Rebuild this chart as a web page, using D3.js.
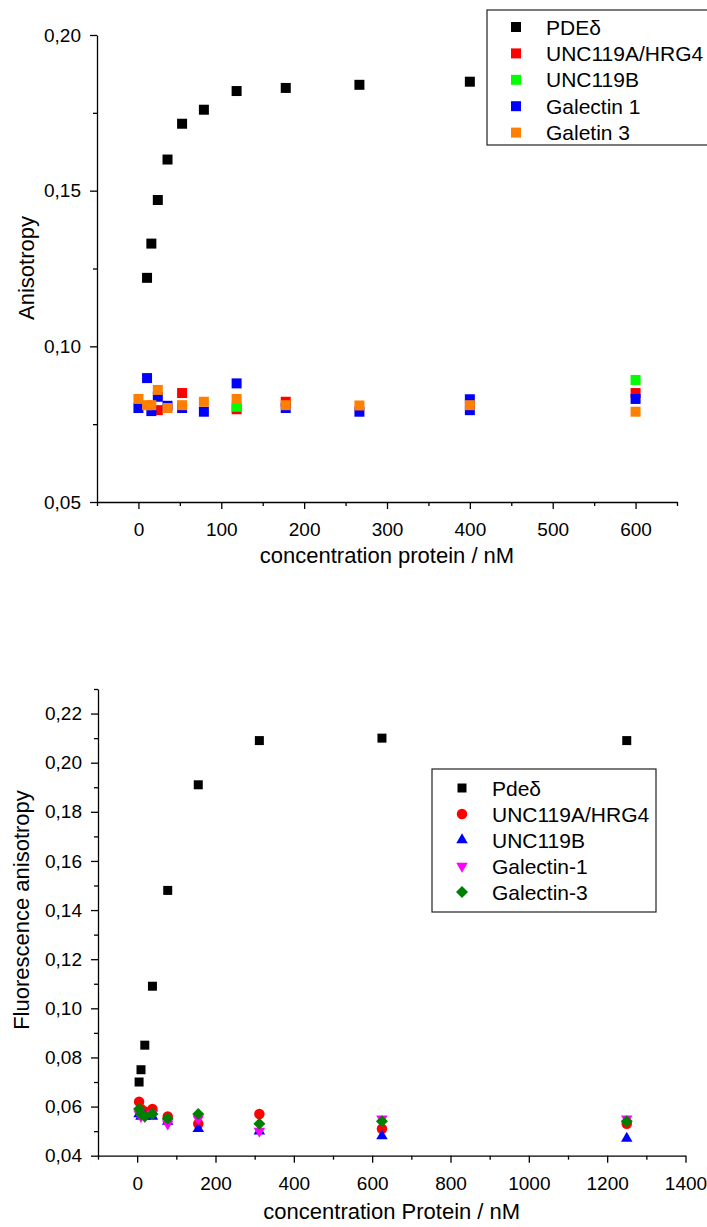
<!DOCTYPE html>
<html>
<head>
<meta charset="utf-8">
<script src="https://cdn.jsdelivr.net/npm/d3@7"></script>
<style>
  body { margin: 0; background: #fff; }
  svg { display: block; font-family: Arial, "Liberation Sans", sans-serif; }
</style>
</head>
<body>
<svg id="chart" width="707" height="1227"></svg>
<script>
// ── top panel: concentration series (nM) and anisotropy values ──
const concTop = [0, 10.4, 15.6, 23.4, 35.1, 52.7, 79, 118.5, 177.8, 266.7, 400, 600];
const pdeTop       = [null, 0.122, 0.133, 0.147, 0.160, 0.1715, 0.176, 0.182, 0.183, 0.184, 0.185, null];
const unc119aTop   = [null, null, null, 0.0795, null, 0.085, null, 0.0798, 0.0822, null, null, 0.085];
const unc119bTop   = [null, null, null, null, null, null, null, 0.0806, null, null, null, 0.0892];
const galectin1Top = [0.0802, 0.0898, 0.0792, 0.0838, 0.0809, 0.0802, 0.079, 0.0881, 0.0802, 0.079, 0.083, 0.0831];
const galectin1TopRepeat = [null, null, null, null, null, null, null, null, null, null, 0.0795, null];
const galectin3Top = [0.0831, 0.0811, 0.0811, 0.086, 0.0802, 0.0811, 0.0822, 0.0831, 0.0811, 0.081, 0.0811, 0.079];
const legendTop = ["PDE\u03b4", "UNC119A/HRG4", "UNC119B", "Galectin 1", "Galetin 3"];
const yTicksTop = [0.05, 0.10, 0.15, 0.20];
const yMinorTop = [0.075, 0.125, 0.175];
const xTicksTop = [0, 100, 200, 300, 400, 500, 600];
const xMinorTop = [-50, 50, 150, 250, 350, 450, 550, 650];

// ── bottom panel ──
const concBottom = [4.9, 9.8, 19.5, 39, 78, 156, 312, 625, 1250];
const pdeBottom       = [0.070, 0.075, 0.085, 0.109, 0.148, 0.191, 0.209, 0.210, 0.209];
const unc119aBottom   = [0.062, 0.059, 0.058, 0.059, 0.056, 0.053, 0.057, 0.051, 0.053];
const unc119bBottom   = [0.057, 0.056, 0.056, 0.056, 0.054, 0.051, 0.050, 0.048, 0.047];
const galectin1Bottom = [0.057, 0.056, 0.056, 0.057, 0.053, 0.055, 0.050, 0.055, 0.055];
const galectin3Bottom = [0.059, 0.057, 0.056, 0.057, 0.055, 0.057, 0.053, 0.054, 0.054];
const legendBottom = ["Pde\u03b4", "UNC119A/HRG4", "UNC119B", "Galectin-1", "Galectin-3"];
const yTicksBottom = [0.04, 0.06, 0.08, 0.10, 0.12, 0.14, 0.16, 0.18, 0.20, 0.22];
const yMinorBottom = [0.05, 0.07, 0.09, 0.11, 0.13, 0.15, 0.17, 0.19, 0.21, 0.23];
const xTicksBottom = [0, 200, 400, 600, 800, 1000, 1200, 1400];
const xMinorBottom = [-100, 100, 300, 500, 700, 900, 1100, 1300];

const svg = d3.select("#chart");
const fmtY = v => d3.format(".2f")(v).replace(".", ",");
const fmtX = d3.format("d");

// symbol path generators (Origin-like shapes)
const SYM = {
  square:  s => d3.symbol(d3.symbolSquare, s * s)(),
  circle:  s => d3.symbol(d3.symbolCircle, Math.PI * (s / 2) * (s / 2))(),
  up:      s => d3.symbol(d3.symbolTriangle, (s / (2 * Math.sqrt(3))) ** 2 * 3 * Math.sqrt(3))(),
  diamond: s => d3.symbol(d3.symbolSquare, (s / Math.SQRT2) ** 2)(),
};

function drawPanel(cfg) {
  const g = svg.append("g");
  const x = d3.scaleLinear().domain(cfg.xDomain).range(cfg.xRange);
  const y = d3.scaleLinear().domain(cfg.yDomain).range(cfg.yRange);
  const base = cfg.yRange[0], left = cfg.xRange[0];

  // minor ticks
  g.append("g").attr("transform", `translate(0,${base})`)
    .call(d3.axisBottom(x).tickValues(cfg.xMinor).tickSize(4).tickFormat(""))
    .call(a => a.select(".domain").remove());
  g.append("g").attr("transform", `translate(${left},0)`)
    .call(d3.axisLeft(y).tickValues(cfg.yMinor).tickSize(4).tickFormat(""))
    .call(a => a.select(".domain").remove());

  // major axes
  const xa = g.append("g").attr("transform", `translate(0,${base})`)
    .call(d3.axisBottom(x).tickValues(cfg.xTicks).tickSize(7).tickSizeOuter(0).tickPadding(14).tickFormat(fmtX));
  const ya = g.append("g").attr("transform", `translate(${left},0)`)
    .call(d3.axisLeft(y).tickValues(cfg.yTicks).tickSize(7).tickSizeOuter(0).tickPadding(9).tickFormat(fmtY));
  [xa, ya].forEach(a => {
    a.selectAll("text").attr("font-size", 19).attr("fill", "#000").attr("font-family", "Arial, 'Liberation Sans', sans-serif");
  });
  g.selectAll(".tick line").attr("stroke", "#000").attr("stroke-width", 1.3);
  g.selectAll(".domain").attr("stroke", "#000").attr("stroke-width", 1.3);

  // titles
  g.append("text").text(cfg.xTitle)
    .attr("x", (cfg.xRange[0] + cfg.xRange[1]) / 2).attr("y", cfg.xTitleY)
    .attr("text-anchor", "middle").attr("font-size", 22);
  g.append("text").text(cfg.yTitle)
    .attr("transform", `translate(${cfg.yTitleX},${cfg.yTitleY}) rotate(-90)`)
    .attr("text-anchor", "middle").attr("font-size", 22);

  // data
  cfg.series.forEach(s => {
    const pts = cfg.conc.map((c, i) => ({ c, v: s.values[i] })).filter(d => d.v != null);
    g.append("g").selectAll("path").data(pts).enter().append("path")
      .attr("d", SYM[s.shape](s.size))
      .attr("transform", d => `translate(${x(d.c)},${y(d.v)}) rotate(${s.rot || 0})`)
      .attr("fill", s.color);
  });

  // legend
  const L = cfg.legend;
  const lg = g.append("g");
  lg.append("rect").attr("x", L.x).attr("y", L.y).attr("width", L.w).attr("height", L.h)
    .attr("fill", "#fff").attr("stroke", "#222").attr("stroke-width", 1.2);
  L.items.forEach((item, i) => {
    const s = cfg.series[item.s];
    const cy = L.row0 + i * L.step;
    lg.append("path").attr("d", SYM[s.shape](L.sym || s.size))
      .attr("transform", `translate(${L.symX},${cy}) rotate(${s.rot || 0})`)
      .attr("fill", s.color);
    lg.append("text").text(item.label).attr("x", L.textX).attr("y", cy).attr("dy", "0.36em")
      .attr("font-size", 21);
  });
}

drawPanel({
  xDomain: [-50, 650], xRange: [97, 677],
  yDomain: [0.05, 0.20], yRange: [502, 35],
  xTicks: xTicksTop, xMinor: xMinorTop, yTicks: yTicksTop, yMinor: yMinorTop,
  xTitle: "concentration protein / nM", xTitleY: 563,
  yTitle: "Anisotropy", yTitleX: 34, yTitleY: 268,
  conc: concTop,
  series: [
    { values: pdeTop, shape: "square", size: 10, color: "#000" },
    { values: unc119aTop, shape: "square", size: 10, color: "#ff0000" },
    { values: unc119bTop, shape: "square", size: 10, color: "#00ff00" },
    { values: galectin1Top, shape: "square", size: 10, color: "#0000ff" },
    { values: galectin1TopRepeat, shape: "square", size: 10, color: "#0000ff" },
    { values: galectin3Top, shape: "square", size: 10, color: "#ff8000" },
  ],
  legend: {
    x: 487, y: 10, w: 240, h: 135, symX: 516, textX: 546, row0: 27, step: 26.4, sym: 10,
    items: legendTop.map((label, i) => ({ label, s: [0, 1, 2, 3, 5][i] })),
  },
});

drawPanel({
  xDomain: [-100, 1400], xRange: [98, 685.5],
  yDomain: [0.04, 0.23], yRange: [1155.7, 689],
  xTicks: xTicksBottom, xMinor: xMinorBottom, yTicks: yTicksBottom, yMinor: yMinorBottom,
  xTitle: "concentration Protein / nM", xTitleY: 1219,
  yTitle: "Fluorescence anisotropy", yTitleX: 29, yTitleY: 910,
  conc: concBottom,
  series: [
    { values: pdeBottom, shape: "square", size: 9, color: "#000" },
    { values: unc119aBottom, shape: "circle", size: 10.5, color: "#ff0000" },
    { values: unc119bBottom, shape: "up", size: 11.5, color: "#0000ff" },
    { values: galectin1Bottom, shape: "up", size: 11.5, color: "#ff00ff", rot: 180 },
    { values: galectin3Bottom, shape: "diamond", size: 12, color: "#008000", rot: 45 },
  ],
  legend: {
    x: 432, y: 769, w: 224, h: 143, symX: 462, textX: 492, row0: 788, step: 26,
    items: legendBottom.map((label, i) => ({ label, s: i })),
  },
});
</script>
</body>
</html>
